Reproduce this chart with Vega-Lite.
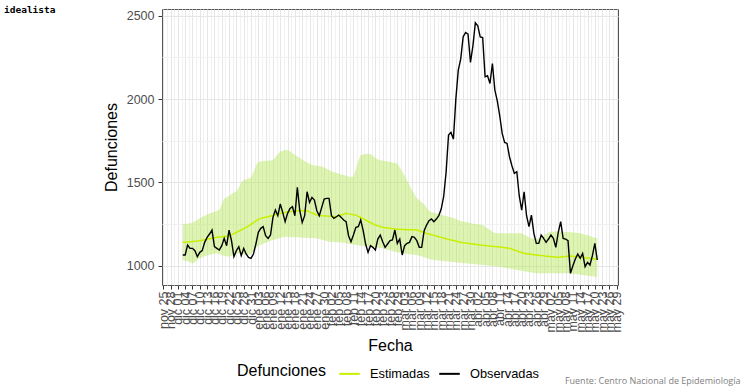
{
"$schema": "https://vega.github.io/schema/vega-lite/v6.json",
"width": 456, "height": 276,
"autosize": {"type": "none"},
"padding": {"left": 162, "top": 9, "right": 126, "bottom": 104},
"background": "white",
"title": {"text": "idealista", "anchor": "start", "frame": "group", "dx": -158, "offset": -13, "font": "DejaVu Sans Mono", "fontSize": 9.5, "fontWeight": "bold", "color": "black", "baseline": "alphabetic"},
"config": {"view": {"stroke": "#555555", "strokeWidth": 1}},
"data": {"values": [
{"fecha":"2019-12-03","obs":1064,"est":1140,"lo":1034,"hi":1250},
{"fecha":"2019-12-04","obs":1064,"est":1141,"lo":1030,"hi":1252},
{"fecha":"2019-12-05","obs":1124,"est":1142,"lo":1026,"hi":1252},
{"fecha":"2019-12-06","obs":1104,"est":1144,"lo":1020,"hi":1254},
{"fecha":"2019-12-07","obs":1104,"est":1145,"lo":1014,"hi":1258},
{"fecha":"2019-12-08","obs":1090,"est":1147,"lo":1020,"hi":1266},
{"fecha":"2019-12-09","obs":1054,"est":1148,"lo":1034,"hi":1276},
{"fecha":"2019-12-10","obs":1080,"est":1150,"lo":1044,"hi":1284},
{"fecha":"2019-12-11","obs":1090,"est":1153,"lo":1050,"hi":1292},
{"fecha":"2019-12-12","obs":1140,"est":1156,"lo":1056,"hi":1300},
{"fecha":"2019-12-13","obs":1170,"est":1159,"lo":1062,"hi":1308},
{"fecha":"2019-12-14","obs":1190,"est":1162,"lo":1066,"hi":1314},
{"fecha":"2019-12-15","obs":1214,"est":1165,"lo":1070,"hi":1318},
{"fecha":"2019-12-16","obs":1114,"est":1168,"lo":1072,"hi":1324},
{"fecha":"2019-12-17","obs":1104,"est":1170,"lo":1074,"hi":1330},
{"fecha":"2019-12-18","obs":1094,"est":1172,"lo":1070,"hi":1334},
{"fecha":"2019-12-19","obs":1120,"est":1173,"lo":1066,"hi":1370},
{"fecha":"2019-12-20","obs":1164,"est":1175,"lo":1060,"hi":1404},
{"fecha":"2019-12-21","obs":1120,"est":1176,"lo":1056,"hi":1410},
{"fecha":"2019-12-22","obs":1214,"est":1178,"lo":1054,"hi":1420},
{"fecha":"2019-12-23","obs":1150,"est":1185,"lo":1058,"hi":1430},
{"fecha":"2019-12-24","obs":1054,"est":1192,"lo":1064,"hi":1440},
{"fecha":"2019-12-25","obs":1090,"est":1200,"lo":1070,"hi":1444},
{"fecha":"2019-12-26","obs":1114,"est":1207,"lo":1074,"hi":1470},
{"fecha":"2019-12-27","obs":1060,"est":1214,"lo":1072,"hi":1500},
{"fecha":"2019-12-28","obs":1104,"est":1222,"lo":1070,"hi":1514},
{"fecha":"2019-12-29","obs":1070,"est":1230,"lo":1066,"hi":1518},
{"fecha":"2019-12-30","obs":1050,"est":1238,"lo":1064,"hi":1524},
{"fecha":"2019-12-31","obs":1044,"est":1248,"lo":1070,"hi":1530},
{"fecha":"2020-01-01","obs":1070,"est":1258,"lo":1090,"hi":1560},
{"fecha":"2020-01-02","obs":1130,"est":1268,"lo":1108,"hi":1600},
{"fecha":"2020-01-03","obs":1200,"est":1278,"lo":1120,"hi":1624},
{"fecha":"2020-01-04","obs":1224,"est":1284,"lo":1126,"hi":1626},
{"fecha":"2020-01-05","obs":1234,"est":1288,"lo":1132,"hi":1628},
{"fecha":"2020-01-06","obs":1180,"est":1291,"lo":1138,"hi":1630},
{"fecha":"2020-01-07","obs":1164,"est":1294,"lo":1144,"hi":1630},
{"fecha":"2020-01-08","obs":1184,"est":1298,"lo":1150,"hi":1632},
{"fecha":"2020-01-09","obs":1290,"est":1302,"lo":1154,"hi":1634},
{"fecha":"2020-01-10","obs":1334,"est":1306,"lo":1158,"hi":1650},
{"fecha":"2020-01-11","obs":1300,"est":1310,"lo":1162,"hi":1670},
{"fecha":"2020-01-12","obs":1370,"est":1314,"lo":1166,"hi":1684},
{"fecha":"2020-01-13","obs":1320,"est":1318,"lo":1170,"hi":1690},
{"fecha":"2020-01-14","obs":1264,"est":1320,"lo":1174,"hi":1694},
{"fecha":"2020-01-15","obs":1314,"est":1322,"lo":1174,"hi":1694},
{"fecha":"2020-01-16","obs":1344,"est":1324,"lo":1172,"hi":1686},
{"fecha":"2020-01-17","obs":1354,"est":1326,"lo":1172,"hi":1676},
{"fecha":"2020-01-18","obs":1300,"est":1328,"lo":1170,"hi":1666},
{"fecha":"2020-01-19","obs":1470,"est":1330,"lo":1170,"hi":1656},
{"fecha":"2020-01-20","obs":1330,"est":1331,"lo":1170,"hi":1646},
{"fecha":"2020-01-21","obs":1260,"est":1330,"lo":1168,"hi":1636},
{"fecha":"2020-01-22","obs":1300,"est":1331,"lo":1168,"hi":1628},
{"fecha":"2020-01-23","obs":1444,"est":1330,"lo":1168,"hi":1620},
{"fecha":"2020-01-24","obs":1380,"est":1323,"lo":1166,"hi":1612},
{"fecha":"2020-01-25","obs":1410,"est":1316,"lo":1166,"hi":1604},
{"fecha":"2020-01-26","obs":1394,"est":1310,"lo":1164,"hi":1602},
{"fecha":"2020-01-27","obs":1330,"est":1304,"lo":1164,"hi":1600},
{"fecha":"2020-01-28","obs":1300,"est":1302,"lo":1160,"hi":1598},
{"fecha":"2020-01-29","obs":1350,"est":1300,"lo":1156,"hi":1596},
{"fecha":"2020-01-30","obs":1400,"est":1299,"lo":1152,"hi":1590},
{"fecha":"2020-01-31","obs":1404,"est":1298,"lo":1148,"hi":1582},
{"fecha":"2020-02-01","obs":1404,"est":1297,"lo":1144,"hi":1574},
{"fecha":"2020-02-02","obs":1300,"est":1296,"lo":1143,"hi":1566},
{"fecha":"2020-02-03","obs":1284,"est":1295,"lo":1142,"hi":1562},
{"fecha":"2020-02-04","obs":1294,"est":1294,"lo":1141,"hi":1558},
{"fecha":"2020-02-05","obs":1304,"est":1299,"lo":1140,"hi":1552},
{"fecha":"2020-02-06","obs":1290,"est":1304,"lo":1139,"hi":1548},
{"fecha":"2020-02-07","obs":1274,"est":1309,"lo":1138,"hi":1544},
{"fecha":"2020-02-08","obs":1264,"est":1314,"lo":1135,"hi":1540},
{"fecha":"2020-02-09","obs":1180,"est":1311,"lo":1132,"hi":1536},
{"fecha":"2020-02-10","obs":1144,"est":1309,"lo":1130,"hi":1534},
{"fecha":"2020-02-11","obs":1184,"est":1306,"lo":1127,"hi":1534},
{"fecha":"2020-02-12","obs":1230,"est":1304,"lo":1124,"hi":1580},
{"fecha":"2020-02-13","obs":1234,"est":1296,"lo":1122,"hi":1630},
{"fecha":"2020-02-14","obs":1274,"est":1289,"lo":1120,"hi":1664},
{"fecha":"2020-02-15","obs":1210,"est":1281,"lo":1118,"hi":1668},
{"fecha":"2020-02-16","obs":1130,"est":1274,"lo":1116,"hi":1670},
{"fecha":"2020-02-17","obs":1080,"est":1266,"lo":1115,"hi":1670},
{"fecha":"2020-02-18","obs":1120,"est":1259,"lo":1114,"hi":1670},
{"fecha":"2020-02-19","obs":1110,"est":1251,"lo":1112,"hi":1660},
{"fecha":"2020-02-20","obs":1094,"est":1244,"lo":1110,"hi":1648},
{"fecha":"2020-02-21","obs":1160,"est":1239,"lo":1108,"hi":1638},
{"fecha":"2020-02-22","obs":1184,"est":1235,"lo":1106,"hi":1634},
{"fecha":"2020-02-23","obs":1144,"est":1230,"lo":1104,"hi":1630},
{"fecha":"2020-02-24","obs":1110,"est":1228,"lo":1100,"hi":1628},
{"fecha":"2020-02-25","obs":1130,"est":1226,"lo":1096,"hi":1626},
{"fecha":"2020-02-26","obs":1150,"est":1224,"lo":1092,"hi":1624},
{"fecha":"2020-02-27","obs":1154,"est":1222,"lo":1088,"hi":1620},
{"fecha":"2020-02-28","obs":1214,"est":1220,"lo":1084,"hi":1616},
{"fecha":"2020-02-29","obs":1134,"est":1218,"lo":1080,"hi":1612},
{"fecha":"2020-03-01","obs":1160,"est":1218,"lo":1077,"hi":1590},
{"fecha":"2020-03-02","obs":1064,"est":1217,"lo":1074,"hi":1566},
{"fecha":"2020-03-03","obs":1120,"est":1217,"lo":1072,"hi":1540},
{"fecha":"2020-03-04","obs":1134,"est":1216,"lo":1071,"hi":1510},
{"fecha":"2020-03-05","obs":1140,"est":1216,"lo":1069,"hi":1484},
{"fecha":"2020-03-06","obs":1174,"est":1215,"lo":1067,"hi":1455},
{"fecha":"2020-03-07","obs":1170,"est":1215,"lo":1066,"hi":1430},
{"fecha":"2020-03-08","obs":1150,"est":1214,"lo":1064,"hi":1404},
{"fecha":"2020-03-09","obs":1110,"est":1209,"lo":1060,"hi":1394},
{"fecha":"2020-03-10","obs":1110,"est":1204,"lo":1055,"hi":1380},
{"fecha":"2020-03-11","obs":1210,"est":1199,"lo":1050,"hi":1370},
{"fecha":"2020-03-12","obs":1244,"est":1194,"lo":1046,"hi":1350},
{"fecha":"2020-03-13","obs":1270,"est":1190,"lo":1041,"hi":1330},
{"fecha":"2020-03-14","obs":1280,"est":1186,"lo":1036,"hi":1322},
{"fecha":"2020-03-15","obs":1264,"est":1182,"lo":1034,"hi":1318},
{"fecha":"2020-03-16","obs":1280,"est":1178,"lo":1032,"hi":1314},
{"fecha":"2020-03-17","obs":1300,"est":1174,"lo":1031,"hi":1310},
{"fecha":"2020-03-18","obs":1340,"est":1170,"lo":1030,"hi":1306},
{"fecha":"2020-03-19","obs":1414,"est":1166,"lo":1028,"hi":1302},
{"fecha":"2020-03-20","obs":1560,"est":1162,"lo":1026,"hi":1298},
{"fecha":"2020-03-21","obs":1784,"est":1158,"lo":1025,"hi":1294},
{"fecha":"2020-03-22","obs":1800,"est":1154,"lo":1024,"hi":1290},
{"fecha":"2020-03-23","obs":1760,"est":1151,"lo":1022,"hi":1286},
{"fecha":"2020-03-24","obs":2000,"est":1148,"lo":1021,"hi":1280},
{"fecha":"2020-03-25","obs":2174,"est":1144,"lo":1019,"hi":1274},
{"fecha":"2020-03-26","obs":2240,"est":1141,"lo":1018,"hi":1268},
{"fecha":"2020-03-27","obs":2374,"est":1138,"lo":1016,"hi":1264},
{"fecha":"2020-03-28","obs":2400,"est":1136,"lo":1014,"hi":1262},
{"fecha":"2020-03-29","obs":2390,"est":1134,"lo":1013,"hi":1260},
{"fecha":"2020-03-30","obs":2220,"est":1132,"lo":1011,"hi":1256},
{"fecha":"2020-03-31","obs":2320,"est":1130,"lo":1010,"hi":1252},
{"fecha":"2020-04-01","obs":2458,"est":1128,"lo":1008,"hi":1250},
{"fecha":"2020-04-02","obs":2440,"est":1126,"lo":1007,"hi":1248},
{"fecha":"2020-04-03","obs":2374,"est":1124,"lo":1005,"hi":1246},
{"fecha":"2020-04-04","obs":2370,"est":1123,"lo":1004,"hi":1244},
{"fecha":"2020-04-05","obs":2134,"est":1121,"lo":1003,"hi":1234},
{"fecha":"2020-04-06","obs":2140,"est":1120,"lo":1001,"hi":1224},
{"fecha":"2020-04-07","obs":2094,"est":1118,"lo":1000,"hi":1214},
{"fecha":"2020-04-08","obs":2214,"est":1117,"lo":998,"hi":1204},
{"fecha":"2020-04-09","obs":2054,"est":1115,"lo":997,"hi":1196},
{"fecha":"2020-04-10","obs":1990,"est":1114,"lo":995,"hi":1194},
{"fecha":"2020-04-11","obs":1900,"est":1112,"lo":994,"hi":1194},
{"fecha":"2020-04-12","obs":1794,"est":1110,"lo":991,"hi":1194},
{"fecha":"2020-04-13","obs":1740,"est":1108,"lo":988,"hi":1194},
{"fecha":"2020-04-14","obs":1734,"est":1106,"lo":985,"hi":1194},
{"fecha":"2020-04-15","obs":1654,"est":1104,"lo":983,"hi":1194},
{"fecha":"2020-04-16","obs":1600,"est":1099,"lo":980,"hi":1194},
{"fecha":"2020-04-17","obs":1554,"est":1094,"lo":977,"hi":1194},
{"fecha":"2020-04-18","obs":1564,"est":1089,"lo":974,"hi":1194},
{"fecha":"2020-04-19","obs":1420,"est":1084,"lo":972,"hi":1194},
{"fecha":"2020-04-20","obs":1334,"est":1079,"lo":969,"hi":1194},
{"fecha":"2020-04-21","obs":1444,"est":1074,"lo":967,"hi":1186},
{"fecha":"2020-04-22","obs":1300,"est":1072,"lo":964,"hi":1178},
{"fecha":"2020-04-23","obs":1234,"est":1070,"lo":962,"hi":1170},
{"fecha":"2020-04-24","obs":1304,"est":1068,"lo":959,"hi":1164},
{"fecha":"2020-04-25","obs":1194,"est":1066,"lo":957,"hi":1160},
{"fecha":"2020-04-26","obs":1134,"est":1064,"lo":954,"hi":1160},
{"fecha":"2020-04-27","obs":1134,"est":1062,"lo":954,"hi":1164},
{"fecha":"2020-04-28","obs":1184,"est":1061,"lo":954,"hi":1170},
{"fecha":"2020-04-29","obs":1164,"est":1059,"lo":954,"hi":1180},
{"fecha":"2020-04-30","obs":1140,"est":1057,"lo":954,"hi":1190},
{"fecha":"2020-05-01","obs":1160,"est":1056,"lo":954,"hi":1200},
{"fecha":"2020-05-02","obs":1184,"est":1054,"lo":954,"hi":1204},
{"fecha":"2020-05-03","obs":1164,"est":1053,"lo":954,"hi":1204},
{"fecha":"2020-05-04","obs":1110,"est":1051,"lo":954,"hi":1206},
{"fecha":"2020-05-05","obs":1200,"est":1050,"lo":954,"hi":1206},
{"fecha":"2020-05-06","obs":1264,"est":1052,"lo":954,"hi":1204},
{"fecha":"2020-05-07","obs":1164,"est":1054,"lo":954,"hi":1204},
{"fecha":"2020-05-08","obs":1160,"est":1055,"lo":954,"hi":1202},
{"fecha":"2020-05-09","obs":1150,"est":1057,"lo":954,"hi":1202},
{"fecha":"2020-05-10","obs":954,"est":1058,"lo":953,"hi":1200},
{"fecha":"2020-05-11","obs":1000,"est":1056,"lo":952,"hi":1200},
{"fecha":"2020-05-12","obs":1040,"est":1055,"lo":950,"hi":1198},
{"fecha":"2020-05-13","obs":1070,"est":1053,"lo":948,"hi":1196},
{"fecha":"2020-05-14","obs":1044,"est":1052,"lo":946,"hi":1194},
{"fecha":"2020-05-15","obs":1074,"est":1050,"lo":944,"hi":1190},
{"fecha":"2020-05-16","obs":994,"est":1048,"lo":942,"hi":1186},
{"fecha":"2020-05-17","obs":1020,"est":1046,"lo":940,"hi":1182},
{"fecha":"2020-05-18","obs":1004,"est":1044,"lo":938,"hi":1178},
{"fecha":"2020-05-19","obs":1060,"est":1042,"lo":937,"hi":1172},
{"fecha":"2020-05-20","obs":1134,"est":1040,"lo":935,"hi":1168},
{"fecha":"2020-05-21","obs":1034,"est":1038,"lo":934,"hi":1164}
]},
"resolve": {"axis": {"x": "independent", "y": "independent"}},
"layer": [
{
"mark": {"type": "point", "opacity": 0},
"encoding": {
"x": {"field": "fecha", "type": "temporal",
"scale": {"type": "utc", "domain": [{"year":2019,"month":11,"date":24,"hours":12,"utc":true},{"year":2020,"month":5,"date":29,"hours":12,"utc":true}]},
"axis": {"orient": "bottom", "grid": true, "gridColor": "#f1f1f1", "gridWidth": 1, "labels": false, "ticks": false, "domain": false,
"title": "Fuente: Centro Nacional de Epidemiología", "titleFont": "Open Sans", "titleFontSize": 9, "titleFontWeight": "normal", "titleColor": "#808080", "titleAlign": "right", "titleBaseline": "alphabetic", "titleX": 578, "titleY": 98, "titleAngle": 0,
"values": [
{"year":2019,"month":11,"date":26,"hours":12,"utc":true},{"year":2019,"month":11,"date":29,"hours":12,"utc":true},
{"year":2019,"month":12,"date":2,"hours":12,"utc":true},{"year":2019,"month":12,"date":5,"hours":12,"utc":true},{"year":2019,"month":12,"date":8,"hours":12,"utc":true},{"year":2019,"month":12,"date":11,"hours":12,"utc":true},{"year":2019,"month":12,"date":14,"hours":12,"utc":true},{"year":2019,"month":12,"date":17,"hours":12,"utc":true},{"year":2019,"month":12,"date":20,"hours":12,"utc":true},{"year":2019,"month":12,"date":23,"hours":12,"utc":true},{"year":2019,"month":12,"date":26,"hours":12,"utc":true},{"year":2019,"month":12,"date":29,"hours":12,"utc":true},
{"year":2020,"month":1,"date":1,"hours":12,"utc":true},{"year":2020,"month":1,"date":4,"hours":12,"utc":true},{"year":2020,"month":1,"date":7,"hours":12,"utc":true},{"year":2020,"month":1,"date":10,"hours":12,"utc":true},{"year":2020,"month":1,"date":13,"hours":12,"utc":true},{"year":2020,"month":1,"date":16,"hours":12,"utc":true},{"year":2020,"month":1,"date":19,"hours":12,"utc":true},{"year":2020,"month":1,"date":22,"hours":12,"utc":true},{"year":2020,"month":1,"date":25,"hours":12,"utc":true},{"year":2020,"month":1,"date":28,"hours":12,"utc":true},{"year":2020,"month":1,"date":31,"hours":12,"utc":true},
{"year":2020,"month":2,"date":3,"hours":12,"utc":true},{"year":2020,"month":2,"date":6,"hours":12,"utc":true},{"year":2020,"month":2,"date":9,"hours":12,"utc":true},{"year":2020,"month":2,"date":12,"hours":12,"utc":true},{"year":2020,"month":2,"date":15,"hours":12,"utc":true},{"year":2020,"month":2,"date":18,"hours":12,"utc":true},{"year":2020,"month":2,"date":21,"hours":12,"utc":true},{"year":2020,"month":2,"date":24,"hours":12,"utc":true},{"year":2020,"month":2,"date":27,"hours":12,"utc":true},
{"year":2020,"month":3,"date":1,"hours":12,"utc":true},{"year":2020,"month":3,"date":4,"hours":12,"utc":true},{"year":2020,"month":3,"date":7,"hours":12,"utc":true},{"year":2020,"month":3,"date":10,"hours":12,"utc":true},{"year":2020,"month":3,"date":13,"hours":12,"utc":true},{"year":2020,"month":3,"date":16,"hours":12,"utc":true},{"year":2020,"month":3,"date":19,"hours":12,"utc":true},{"year":2020,"month":3,"date":22,"hours":12,"utc":true},{"year":2020,"month":3,"date":25,"hours":12,"utc":true},{"year":2020,"month":3,"date":28,"hours":12,"utc":true},{"year":2020,"month":3,"date":31,"hours":12,"utc":true},
{"year":2020,"month":4,"date":3,"hours":12,"utc":true},{"year":2020,"month":4,"date":6,"hours":12,"utc":true},{"year":2020,"month":4,"date":9,"hours":12,"utc":true},{"year":2020,"month":4,"date":12,"hours":12,"utc":true},{"year":2020,"month":4,"date":15,"hours":12,"utc":true},{"year":2020,"month":4,"date":18,"hours":12,"utc":true},{"year":2020,"month":4,"date":21,"hours":12,"utc":true},{"year":2020,"month":4,"date":24,"hours":12,"utc":true},{"year":2020,"month":4,"date":27,"hours":12,"utc":true},{"year":2020,"month":4,"date":30,"hours":12,"utc":true},
{"year":2020,"month":5,"date":3,"hours":12,"utc":true},{"year":2020,"month":5,"date":6,"hours":12,"utc":true},{"year":2020,"month":5,"date":9,"hours":12,"utc":true},{"year":2020,"month":5,"date":12,"hours":12,"utc":true},{"year":2020,"month":5,"date":15,"hours":12,"utc":true},{"year":2020,"month":5,"date":18,"hours":12,"utc":true},{"year":2020,"month":5,"date":21,"hours":12,"utc":true},{"year":2020,"month":5,"date":24,"hours":12,"utc":true},{"year":2020,"month":5,"date":27,"hours":12,"utc":true}
]}},
"y": {"field": "est", "type": "quantitative",
"scale": {"domain": [884, 2541], "nice": false, "zero": false},
"axis": {"orient": "left", "grid": true, "gridColor": "#f1f1f1", "labels": false, "ticks": false, "domain": false, "title": null, "values": [1250, 1750, 2250]}}
}
},
{
"mark": {"type": "area", "fill": "#b5e655", "fillOpacity": 0.45},
"encoding": {
"x": {"field": "fecha", "type": "temporal",
"axis": {"orient": "bottom", "grid": true, "gridColor": "#e6e6e6", "gridWidth": 1, "domain": false, "ticks": true, "tickColor": "#333333", "tickSize": 4, "labelAngle": 270, "labelPadding": 2, "labelOverlap": false, "labelFlush": false, "labelBound": false,
"labelFont": "Liberation Sans", "labelFontSize": 12.5, "labelColor": "#4d4d4d",
"labelExpr": "['ene','feb','mar','abr','may','jun','jul','ago','sep','oct','nov','dic'][utcmonth(datum.value)] + ' ' + utcFormat(datum.value, '%d')",
"title": "Fecha", "titleFont": "Liberation Sans", "titleFontSize": 16, "titleFontWeight": "normal", "titleColor": "black", "titlePadding": 6,
"values": [
{"year":2019,"month":11,"date":25,"utc":true},{"year":2019,"month":11,"date":28,"utc":true},
{"year":2019,"month":12,"date":1,"utc":true},{"year":2019,"month":12,"date":4,"utc":true},{"year":2019,"month":12,"date":7,"utc":true},{"year":2019,"month":12,"date":10,"utc":true},{"year":2019,"month":12,"date":13,"utc":true},{"year":2019,"month":12,"date":16,"utc":true},{"year":2019,"month":12,"date":19,"utc":true},{"year":2019,"month":12,"date":22,"utc":true},{"year":2019,"month":12,"date":25,"utc":true},{"year":2019,"month":12,"date":28,"utc":true},{"year":2019,"month":12,"date":31,"utc":true},
{"year":2020,"month":1,"date":3,"utc":true},{"year":2020,"month":1,"date":6,"utc":true},{"year":2020,"month":1,"date":9,"utc":true},{"year":2020,"month":1,"date":12,"utc":true},{"year":2020,"month":1,"date":15,"utc":true},{"year":2020,"month":1,"date":18,"utc":true},{"year":2020,"month":1,"date":21,"utc":true},{"year":2020,"month":1,"date":24,"utc":true},{"year":2020,"month":1,"date":27,"utc":true},{"year":2020,"month":1,"date":30,"utc":true},
{"year":2020,"month":2,"date":2,"utc":true},{"year":2020,"month":2,"date":5,"utc":true},{"year":2020,"month":2,"date":8,"utc":true},{"year":2020,"month":2,"date":11,"utc":true},{"year":2020,"month":2,"date":14,"utc":true},{"year":2020,"month":2,"date":17,"utc":true},{"year":2020,"month":2,"date":20,"utc":true},{"year":2020,"month":2,"date":23,"utc":true},{"year":2020,"month":2,"date":26,"utc":true},{"year":2020,"month":2,"date":29,"utc":true},
{"year":2020,"month":3,"date":3,"utc":true},{"year":2020,"month":3,"date":6,"utc":true},{"year":2020,"month":3,"date":9,"utc":true},{"year":2020,"month":3,"date":12,"utc":true},{"year":2020,"month":3,"date":15,"utc":true},{"year":2020,"month":3,"date":18,"utc":true},{"year":2020,"month":3,"date":21,"utc":true},{"year":2020,"month":3,"date":24,"utc":true},{"year":2020,"month":3,"date":27,"utc":true},{"year":2020,"month":3,"date":30,"utc":true},
{"year":2020,"month":4,"date":2,"utc":true},{"year":2020,"month":4,"date":5,"utc":true},{"year":2020,"month":4,"date":8,"utc":true},{"year":2020,"month":4,"date":11,"utc":true},{"year":2020,"month":4,"date":14,"utc":true},{"year":2020,"month":4,"date":17,"utc":true},{"year":2020,"month":4,"date":20,"utc":true},{"year":2020,"month":4,"date":23,"utc":true},{"year":2020,"month":4,"date":26,"utc":true},{"year":2020,"month":4,"date":29,"utc":true},
{"year":2020,"month":5,"date":2,"utc":true},{"year":2020,"month":5,"date":5,"utc":true},{"year":2020,"month":5,"date":8,"utc":true},{"year":2020,"month":5,"date":11,"utc":true},{"year":2020,"month":5,"date":14,"utc":true},{"year":2020,"month":5,"date":17,"utc":true},{"year":2020,"month":5,"date":20,"utc":true},{"year":2020,"month":5,"date":23,"utc":true},{"year":2020,"month":5,"date":26,"utc":true},{"year":2020,"month":5,"date":29,"utc":true}
]}},
"y": {"field": "lo", "type": "quantitative",
"axis": {"orient": "left", "grid": true, "gridColor": "#e6e6e6", "domain": false, "tickColor": "#333333", "tickSize": 4, "labelPadding": 4, "labelFont": "Liberation Sans", "labelFontSize": 12.5, "labelColor": "#4d4d4d", "format": "d", "values": [1000, 1500, 2000, 2500],
"title": "Defunciones", "titleFont": "Liberation Sans", "titleFontSize": 16, "titleFontWeight": "normal", "titleColor": "black", "titlePadding": 7}},
"y2": {"field": "hi"}
}
},
{
"mark": {"type": "line", "strokeWidth": 1.5},
"encoding": {
"x": {"field": "fecha", "type": "temporal", "axis": null},
"y": {"field": "est", "type": "quantitative", "axis": null},
"color": {"datum": "Estimadas", "type": "nominal",
"scale": {"domain": ["Estimadas", "Observadas"], "range": ["#c8ef00", "#000000"]},
"legend": {"title": "Defunciones", "orient": "none", "legendX": 75, "legendY": 353, "direction": "horizontal", "titleOrient": "left", "titleFont": "Liberation Sans", "titleFontSize": 16, "titleFontWeight": "normal", "titleColor": "black", "titlePadding": 12, "labelFont": "Liberation Sans", "labelFontSize": 12.8, "labelColor": "black", "symbolType": "stroke", "symbolStrokeWidth": 2, "symbolSize": 420, "labelOffset": 9, "columnPadding": 5}}
}
},
{
"mark": {"type": "line", "strokeWidth": 1.4},
"encoding": {
"x": {"field": "fecha", "type": "temporal", "axis": null},
"y": {"field": "obs", "type": "quantitative", "axis": null},
"color": {"datum": "Observadas", "type": "nominal"}
}
}
]
}
